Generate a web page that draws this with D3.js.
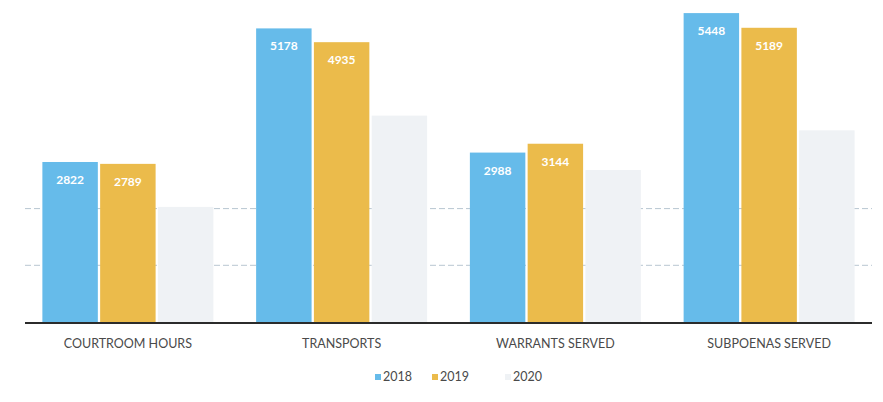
<!DOCTYPE html>
<html>
<head>
<meta charset="utf-8">
<script src="https://cdn.jsdelivr.net/npm/d3@7"></script>
<style>
  html, body { margin: 0; padding: 0; background: #fff; }
  svg { display: block; font-family: Lato, "Open Sans", sans-serif; }
</style>
</head>
<body>
<svg id="chart" width="883" height="402"></svg>
<script>
// Activity counts by category and year
const categories = ["COURTROOM HOURS", "TRANSPORTS", "WARRANTS SERVED", "SUBPOENAS SERVED"];
const years = ["2018", "2019", "2020"];
const values2018 = [2822, 5178, 2988, 5448];
const values2019 = [2789, 4935, 3144, 5189];
const values2020 = [2030, 3640, 2680, 3380];
const gridTicks = [1000, 2000];

const seriesValues = [values2018, values2019, values2020];
const colors = ["#66bbea", "#ebbb4b", "#eff2f5"];
const showLabel = [true, true, false];

const svg = d3.select("#chart");

const x0 = d3.scaleBand().domain(categories).range([21, 876])
  .paddingInner(0.2).paddingOuter(0.1);
const x1 = d3.scaleBand().domain(years).range([0, x0.bandwidth()]).paddingInner(0.04);
const y = d3.scaleLinear().domain([0, 5000]).range([322, 38.5]);

// light horizontal gridlines
svg.append("g")
  .selectAll("line")
  .data(gridTicks)
  .join("line")
  .attr("x1", 25).attr("x2", 872)
  .attr("y1", d => y(d)).attr("y2", d => y(d))
  .attr("stroke", "#b8c6d1")
  .attr("stroke-width", 1)
  .attr("stroke-dasharray", "6 3");

const groups = svg.append("g")
  .selectAll("g")
  .data(categories)
  .join("g")
  .attr("transform", d => `translate(${x0(d)},0)`);

const barData = (cat, ci) => years.map((yr, si) => ({ yr, si, v: seriesValues[si][ci] }));

groups.selectAll("rect")
  .data((d, i) => barData(d, i))
  .join("rect")
  .attr("x", d => x1(d.yr))
  .attr("y", d => y(d.v))
  .attr("width", x1.bandwidth())
  .attr("height", d => y(0) - y(d.v))
  .attr("fill", d => colors[d.si]);

groups.selectAll("text")
  .data((d, i) => barData(d, i).filter(b => showLabel[b.si]))
  .join("text")
  .attr("x", d => x1(d.yr) + x1.bandwidth() / 2)
  .attr("y", d => y(d.v) + 22)
  .attr("text-anchor", "middle")
  .attr("fill", "#ffffff")
  .attr("font-size", 12)
  .attr("font-weight", 700)
  .text(d => d.v);

// baseline axis
svg.append("line")
  .attr("x1", 25).attr("x2", 872)
  .attr("y1", y(0) + 1).attr("y2", y(0) + 1)
  .attr("stroke", "#2b2b2b")
  .attr("stroke-width", 2);

// category labels
svg.append("g")
  .selectAll("text")
  .data(categories)
  .join("text")
  .attr("x", d => x0(d) + x0.bandwidth() / 2)
  .attr("y", 348)
  .attr("text-anchor", "middle")
  .attr("font-size", 12.5)
  .attr("fill", "#4a4a4a")
  .text(d => d);

// legend
const legendX = [375, 432, 505];
const legend = svg.append("g")
  .selectAll("g")
  .data(years)
  .join("g")
  .attr("transform", (d, i) => `translate(${legendX[i]},381)`);
legend.append("rect")
  .attr("x", 0).attr("y", -7).attr("width", 6).attr("height", 6)
  .attr("fill", (d, i) => colors[i]);
legend.append("text")
  .attr("x", 8).attr("y", 0)
  .attr("font-size", 12.5)
  .attr("fill", "#4a4a4a")
  .text(d => d);
</script>
</body>
</html>
